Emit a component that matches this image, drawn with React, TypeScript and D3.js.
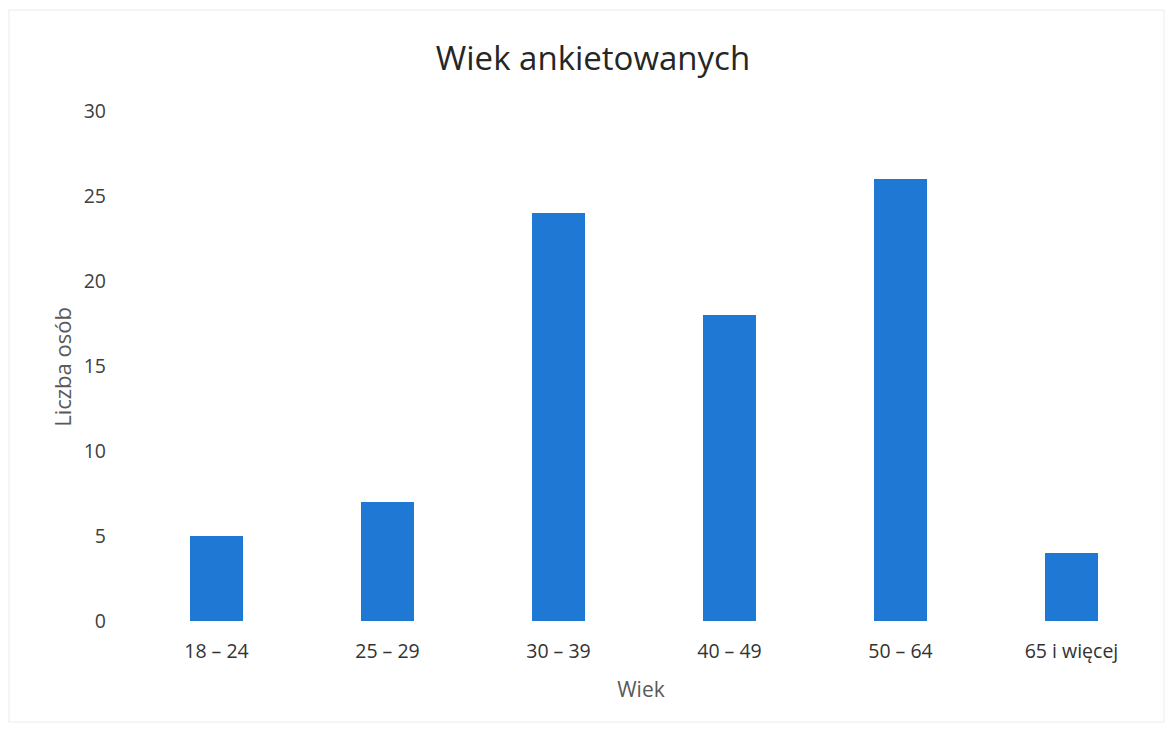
import React from "react";
import * as d3 from "d3";

const categories = ["18 – 24", "25 – 29", "30 – 39", "40 – 49", "50 – 64", "65 i więcej"];
const counts = [5, 7, 24, 18, 26, 4];
const yTicks = [0, 5, 10, 15, 20, 25, 30];

const W = 1173;
const H = 731;
const FONT = "'Open Sans', sans-serif";

export default function App() {
  const x = d3.scaleBand().domain(categories).range([131, 1157]).paddingInner(0.69).paddingOuter(0.345);
  const y = d3.scaleLinear().domain([0, 30]).range([621, 111]);

  return (
    <svg width={W} height={H} style={{ position: "absolute", left: 0, top: 0, background: "#fff" }}>
      <rect x={9} y={10} width={1155} height={712} fill="none" stroke="#ececec" strokeWidth={1} />
      <text x={593} y={70} textAnchor="middle" fontFamily={FONT} fontSize={33} fill="#262626">
        Wiek ankietowanych
      </text>
      {yTicks.map((t) => (
        <text key={t} x={106} y={y(t)} dy="0.35em" textAnchor="end" fontFamily={FONT} fontSize={19.5} fill="#404040">
          {t}
        </text>
      ))}
      {categories.map((c, i) => (
        <g key={c}>
          <rect x={x(c)} y={y(counts[i])} width={x.bandwidth()} height={y(0) - y(counts[i])} fill="#1f78d4" />
          <text x={(x(c) as number) + x.bandwidth() / 2} y={651} dy="0.35em" textAnchor="middle" fontFamily={FONT} fontSize={19.5} fill="#333">
            {c}
          </text>
        </g>
      ))}
      <text x={641} y={697} textAnchor="middle" fontFamily={FONT} fontSize={21} fill="#595959">
        Wiek
      </text>
      <text transform="translate(71,367) rotate(-90)" textAnchor="middle" fontFamily={FONT} fontSize={22} fill="#595959">
        Liczba osób
      </text>
    </svg>
  );
}
